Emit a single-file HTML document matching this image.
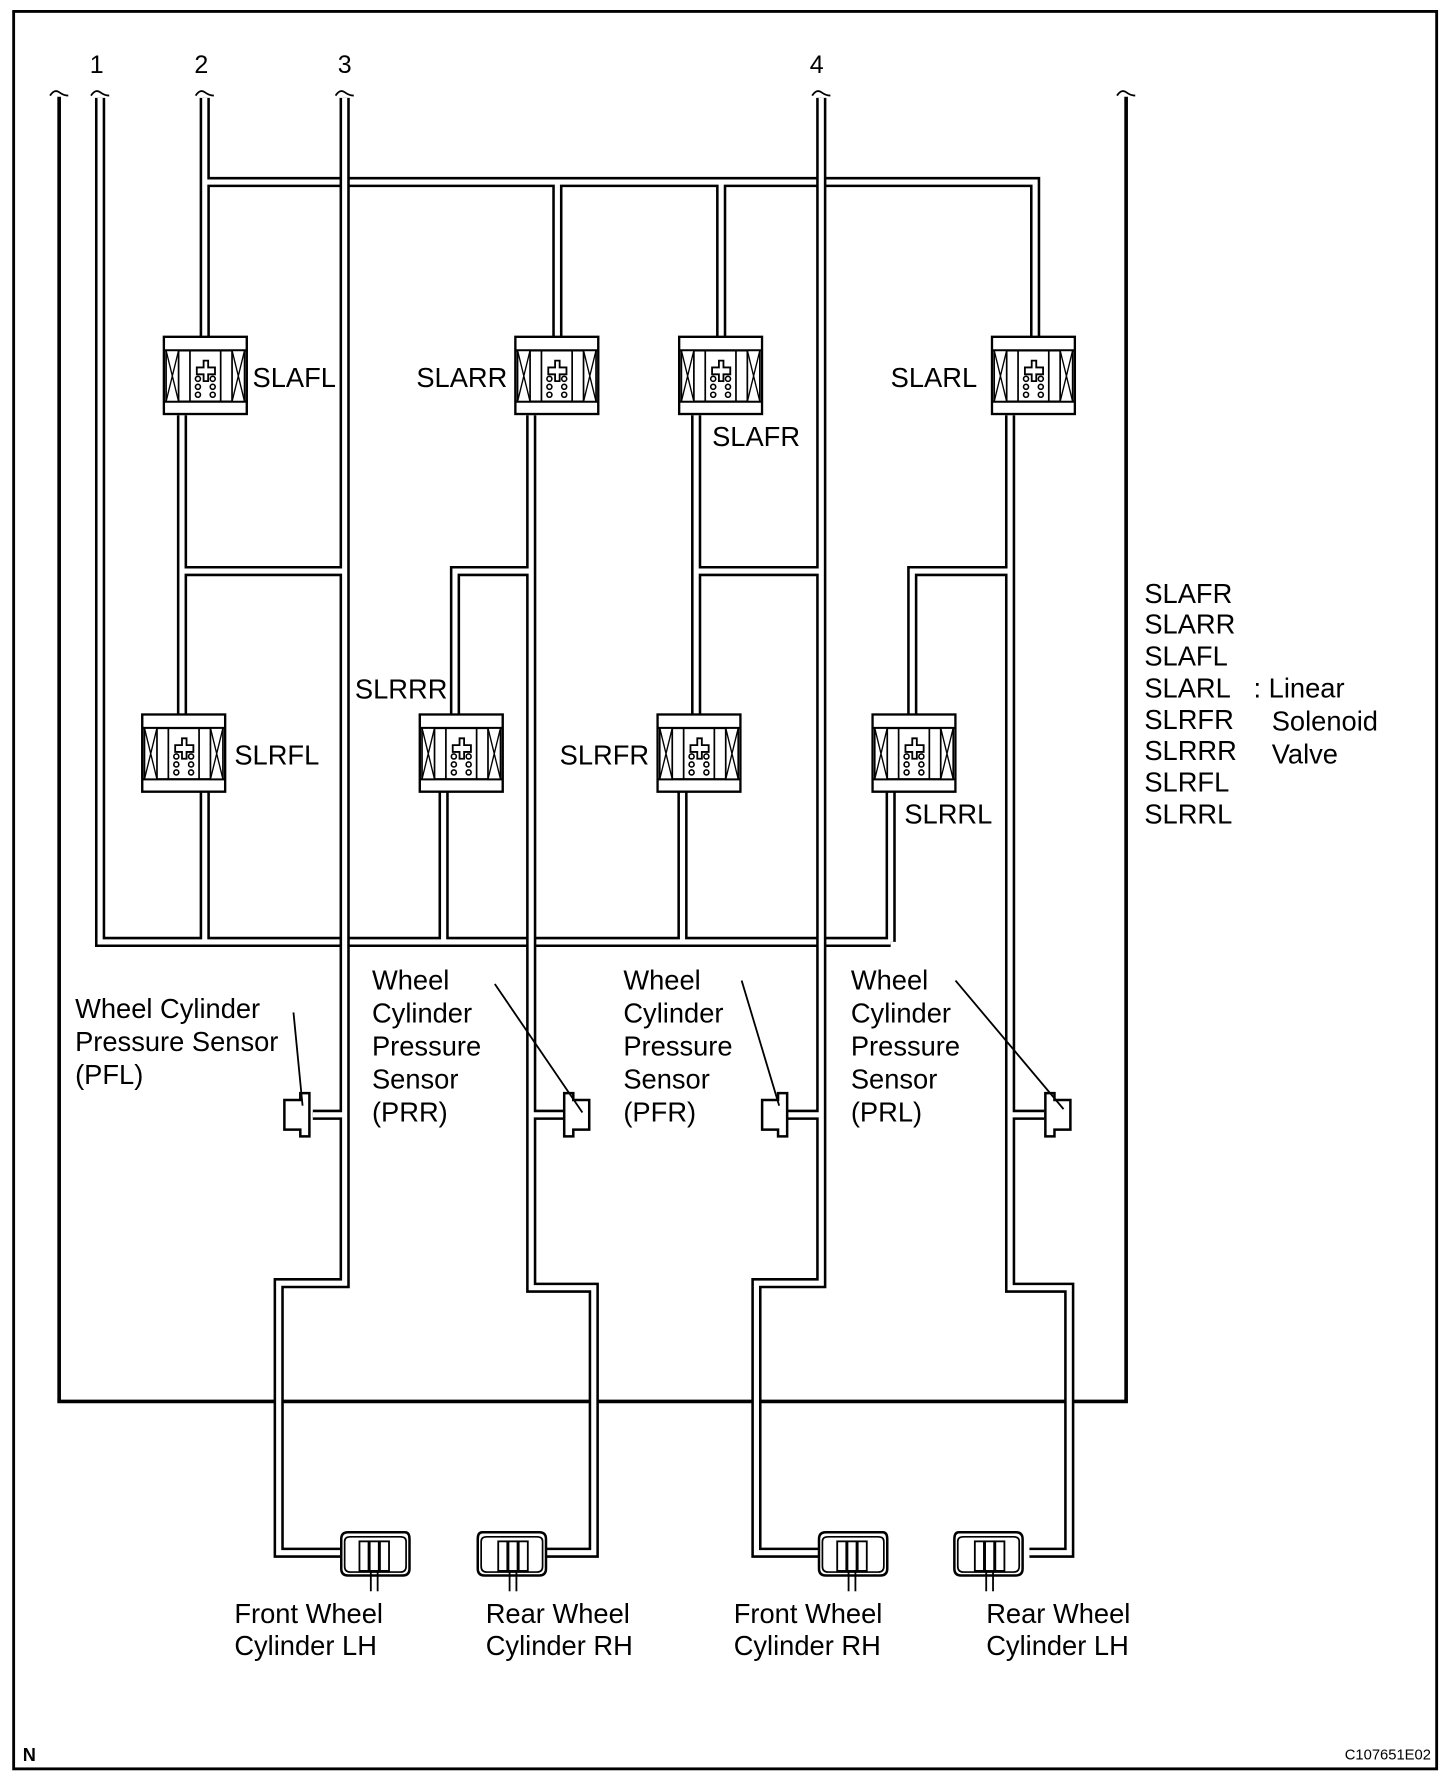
<!DOCTYPE html>
<html><head><meta charset="utf-8"><style>
html,body{margin:0;padding:0;background:#fff}
svg{display:block}
text{font-family:"Liberation Sans",Arial,sans-serif;fill:#000}
</style></head><body>
<svg width="1456" height="1778" viewBox="0 0 1280 1563" xmlns="http://www.w3.org/2000/svg">
<defs>
<symbol id="va" viewBox="0 0 75 70" width="75" height="70">
<rect x="1" y="1" width="73" height="68" fill="#fff" stroke="#000" stroke-width="2.2"/>
<line x1="1" y1="13" x2="74" y2="13" stroke="#000" stroke-width="2"/>
<line x1="1" y1="58" x2="74" y2="58" stroke="#000" stroke-width="2"/>
<rect x="3" y="13" width="11" height="45" fill="#fff" stroke="#000" stroke-width="1.5"/>
<path d="M3 13L14 58M14 13L3 58" stroke="#000" stroke-width="1.2"/>
<rect x="61" y="13" width="11" height="45" fill="#fff" stroke="#000" stroke-width="1.5"/>
<path d="M61 13L72 58M72 13L61 58" stroke="#000" stroke-width="1.2"/>
<path d="M24 13V58M51 13V58" stroke="#000" stroke-width="1.5"/>
<path d="M30 28h6v-6h4v6h6v6h-6v6h-4v-6h-6z" fill="#fff" stroke="#000" stroke-width="1.6"/>
<g fill="none" stroke="#000" stroke-width="1.4"><circle cx="31" cy="38" r="2.2"/><circle cx="44" cy="38" r="2.2"/><circle cx="31" cy="45" r="2.2"/><circle cx="44" cy="45" r="2.2"/><circle cx="31" cy="52" r="2.2"/><circle cx="44" cy="52" r="2.2"/></g>
</symbol>
<symbol id="cyl" viewBox="0 0 66 56" width="66" height="56">
<path d="M4 10 Q4 4 10 4 H60 Q64 4 64 10 V36 Q64 42 58 42 H10 Q4 42 4 36Z" fill="#fff" stroke="#000" stroke-width="2.2"/>
<path d="M7 12 Q7 8 12 8 H56 Q61 8 61 12 V34 Q61 39 56 39 H12 Q7 39 7 34Z" fill="none" stroke="#000" stroke-width="1.5"/>
<rect x="20" y="12" width="8" height="26" fill="#fff" stroke="#000" stroke-width="1.6"/>
<rect x="29" y="12" width="8" height="26" fill="#fff" stroke="#000" stroke-width="1.6"/>
<rect x="38" y="12" width="8" height="26" fill="#fff" stroke="#000" stroke-width="1.6"/>
<path d="M30 38V56M36 38V56" stroke="#000" stroke-width="1.6"/>
</symbol>
</defs>
<rect x="12" y="10" width="1251" height="1545" fill="none" stroke="#000" stroke-width="2.5"/>
<path d="M52 85V1232H990V85" fill="none" stroke="#000" stroke-width="3.2"/>
<g fill="none" stroke="#000" stroke-width="1.6">
<path d="M44 84q4-6 8-3t8 3"/><path d="M982 84q4-6 8-3t8 3"/>
<path d="M80 84q4-6 8-3t8 3"/><path d="M172 84q4-6 8-3t8 3"/><path d="M295 84q4-6 8-3t8 3"/><path d="M714 84q4-6 8-3t8 3"/>
</g>
<g fill="none" stroke-linejoin="miter" stroke-linecap="butt">
<g stroke="#000" stroke-width="9">
<path d="M88 86V828H783M180 828V695M390 828V695M600 828V695M783 828V695"/>
<path d="M180 86V297M180 160H910V297M490 160V297M634 160V297"/>
</g>
<g stroke="#fff" stroke-width="4.5">
<path d="M88 86V828H783M180 828V695M390 828V695M600 828V695M783 828V695"/>
<path d="M180 86V297M180 160H910V297M490 160V297M634 160V297"/>
</g>
<g stroke="#000" stroke-width="9">
<path d="M303 86V1128H245V1365H300M303 502H160M160 365V630M303 980H275"/>
<path d="M467 365V1132H522V1365H480M467 502H400V630M467 980H497"/>
<path d="M722 86V1128H665V1365H720M722 502H612M612 365V630M722 980H692"/>
<path d="M888 365V1132H940V1365H905M888 502H802V630M888 980H918"/>
</g>
<g stroke="#fff" stroke-width="4.5">
<path d="M303 86V1128H245V1365H300M303 502H160M160 365V630M303 980H275"/>
<path d="M467 365V1132H522V1365H480M467 502H400V630M467 980H497"/>
<path d="M722 86V1128H665V1365H720M722 502H612M612 365V630M722 980H692"/>
<path d="M888 365V1132H940V1365H905M888 502H802V630M888 980H918"/>
</g>
</g>
<use href="#va" x="143" y="295"/>
<use href="#va" x="452" y="295"/>
<use href="#va" x="596" y="295"/>
<use href="#va" x="871" y="295"/>
<use href="#va" x="124" y="627"/>
<use href="#va" x="368" y="627"/>
<use href="#va" x="577" y="627"/>
<use href="#va" x="766" y="627"/>
<g fill="#fff" stroke="#000" stroke-width="2.2">
<path d="M250 967h14v-6h8v38h-8v-6h-14z"/>
<path d="M518 967h-14v-6h-8v38h8v-6h14z"/>
<path d="M670 967h14v-6h8v38h-8v-6h-14z"/>
<path d="M941 967h-14v-6h-8v38h8v-6h14z"/>
</g>
<g stroke="#000" stroke-width="1.6">
<line x1="258" y1="890" x2="266" y2="972"/>
<line x1="435" y1="865" x2="512" y2="978"/>
<line x1="652" y1="862" x2="685" y2="972"/>
<line x1="840" y1="862" x2="935" y2="975"/>
</g>
<use href="#cyl" x="296" y="1343"/>
<use href="#cyl" x="484" y="1343" transform="translate(968,0) scale(-1,1)"/>
<use href="#cyl" x="716" y="1343"/>
<use href="#cyl" x="903" y="1343" transform="translate(1806,0) scale(-1,1)"/>
<g font-size="24">
<text x="85" y="64" text-anchor="middle" font-size="22">1</text>
<text x="177" y="64" text-anchor="middle" font-size="22">2</text>
<text x="303" y="64" text-anchor="middle" font-size="22">3</text>
<text x="718" y="64" text-anchor="middle" font-size="22">4</text>
<text x="222" y="340">SLAFL</text>
<text x="366" y="340">SLARR</text>
<text x="626" y="392">SLAFR</text>
<text x="783" y="340">SLARL</text>
<text x="206" y="672">SLRFL</text>
<text x="312" y="614">SLRRR</text>
<text x="492" y="672">SLRFR</text>
<text x="795" y="724">SLRRL</text>
<text x="1006" y="530">SLAFR</text>
<text x="1006" y="557">SLARR</text>
<text x="1006" y="585">SLAFL</text>
<text x="1006" y="613">SLARL</text>
<text x="1006" y="641">SLRFR</text>
<text x="1006" y="668">SLRRR</text>
<text x="1006" y="696">SLRFL</text>
<text x="1006" y="724">SLRRL</text>
<text x="1102" y="613">: Linear</text>
<text x="1118" y="642">Solenoid</text>
<text x="1118" y="671">Valve</text>
<text x="66" y="895">Wheel Cylinder</text>
<text x="66" y="924">Pressure Sensor</text>
<text x="66" y="953">(PFL)</text>
<text x="327" y="870">Wheel</text><text x="327" y="899">Cylinder</text><text x="327" y="928">Pressure</text><text x="327" y="957">Sensor</text><text x="327" y="986">(PRR)</text>
<text x="548" y="870">Wheel</text><text x="548" y="899">Cylinder</text><text x="548" y="928">Pressure</text><text x="548" y="957">Sensor</text><text x="548" y="986">(PFR)</text>
<text x="748" y="870">Wheel</text><text x="748" y="899">Cylinder</text><text x="748" y="928">Pressure</text><text x="748" y="957">Sensor</text><text x="748" y="986">(PRL)</text>
<text x="206" y="1427">Front Wheel</text><text x="206" y="1455">Cylinder LH</text>
<text x="427" y="1427">Rear Wheel</text><text x="427" y="1455">Cylinder RH</text>
<text x="645" y="1427">Front Wheel</text><text x="645" y="1455">Cylinder RH</text>
<text x="867" y="1427">Rear Wheel</text><text x="867" y="1455">Cylinder LH</text>
</g>
<text x="20" y="1548" font-size="16" font-weight="bold">N</text>
<text x="1258" y="1547" font-size="13" text-anchor="end">C107651E02</text>
</svg>
</body></html>
